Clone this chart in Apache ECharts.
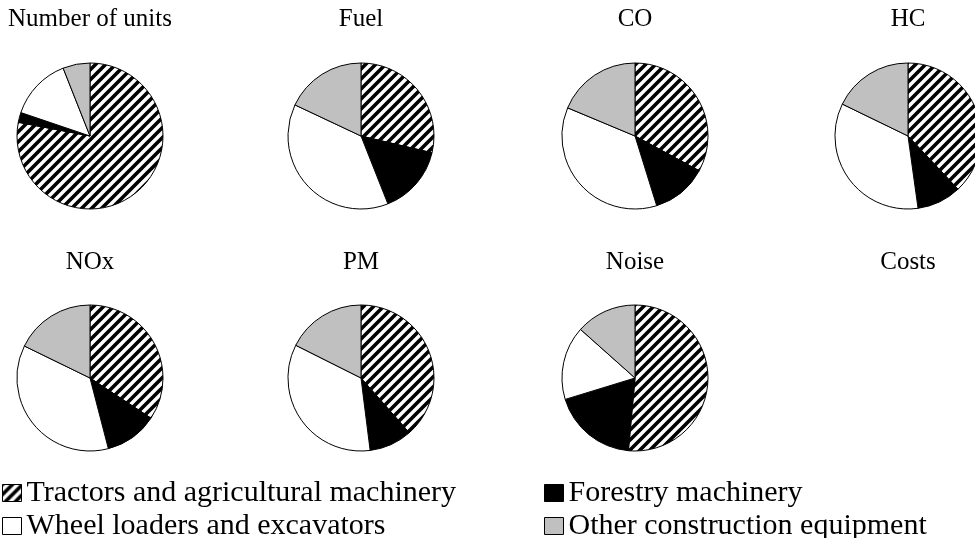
<!DOCTYPE html>
<html>
<head>
<meta charset="utf-8">
<script src="https://cdn.jsdelivr.net/npm/echarts@6/dist/echarts.min.js"></script>
<style>
html, body { margin: 0; padding: 0; background: #fff; }
#chart { width: 975px; height: 538px; }
</style>
</head>
<body>
<div id="chart"></div>
<script>
// categories (legend names)
const categories = [
  'Tractors and agricultural machinery',
  'Forestry machinery',
  'Wheel loaders and excavators',
  'Other construction equipment'
];
// one pie per panel, shares in %
const panels = ['Number of units', 'Fuel', 'CO', 'HC', 'NOx', 'PM', 'Noise', 'Costs'];
const tractors = [78.0, 28.7, 32.9, 38.0, 34.3, 38.5, 51.4, null];
const forestry = [2.2, 15.3, 12.3, 9.8, 11.7, 9.5, 18.8, null];
const wheel    = [13.8, 38.0, 36.1, 34.4, 36.3, 34.4, 16.3, null];
const other    = [6.0, 18.0, 18.7, 17.8, 17.8, 17.6, 13.4, null];

// hatch pattern for tractors
function hatch() {
  const n = 10;
  const c = document.createElement('canvas');
  c.width = n; c.height = n;
  const ctx = c.getContext('2d');
  ctx.fillStyle = '#fff';
  ctx.fillRect(0, 0, n, n);
  ctx.strokeStyle = '#000';
  ctx.lineWidth = 3.6;
  ctx.beginPath();
  ctx.moveTo(-2, n + 2); ctx.lineTo(n + 2, -2);
  ctx.moveTo(-2, 2); ctx.lineTo(2, -2);
  ctx.moveTo(n - 2, n + 2); ctx.lineTo(n + 2, n - 2);
  ctx.stroke();
  return { image: c, repeat: 'repeat' };
}
const fills = [hatch(), '#000', '#fff', '#c0c0c0'];
const font = "'Liberation Serif', 'Times New Roman', serif";

const colX = [90, 361, 635, 908];
const rowY = [136, 378];
const titleTop = [7, 250];

let titles = [];
let series = [];
panels.forEach(function (p, i) {
  const col = i % 4, row = Math.floor(i / 4);
  titles.push({
    text: p, left: colX[col], top: titleTop[row], textAlign: 'center', padding: 0,
    textStyle: { fontFamily: font, fontSize: 25, fontWeight: 'normal', color: '#000' }
  });
  if (tractors[i] == null) return;
  const vals = [tractors[i], forestry[i], wheel[i], other[i]];
  series.push({
    type: 'pie',
    center: [colX[col], rowY[row]],
    radius: 73,
    startAngle: 90,
    clockwise: true,
    silent: true,
    label: { show: false },
    labelLine: { show: false },
    emphasis: { disabled: true },
    itemStyle: { borderColor: '#000', borderWidth: 1 },
    data: categories.map(function (c, k) {
      return { name: c, value: vals[k], itemStyle: { color: fills[k] } };
    })
  });
});

const legendBase = {
  orient: 'vertical', top: 478, height: 80, padding: 0, itemGap: 3,
  itemWidth: 19, itemHeight: 17, icon: 'rect', selectedMode: false,
  itemStyle: { borderColor: '#000', borderWidth: 1 },
  textStyle: { fontFamily: font, fontSize: 30, color: '#000' }
};

const chart = echarts.init(document.getElementById('chart'));
chart.setOption({
  backgroundColor: '#fff',
  animation: false,
  title: titles,
  legend: [
    Object.assign({ left: 2, data: [categories[0], categories[2]] }, legendBase),
    Object.assign({ left: 544, data: [categories[1], categories[3]] }, legendBase)
  ],
  series: series
});
</script>
</body>
</html>
